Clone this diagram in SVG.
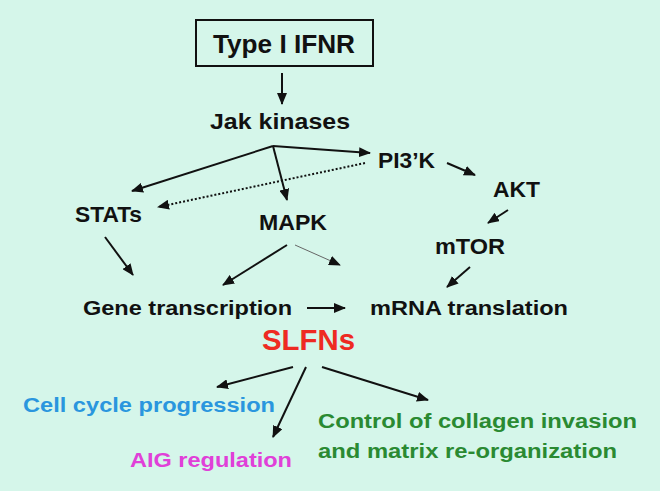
<svg xmlns="http://www.w3.org/2000/svg" width="660" height="491" viewBox="0 0 660 491">
<style>
text{font-family:"Liberation Sans",Arial,sans-serif;font-weight:bold;fill:#111}
.c{stroke:#111;stroke-width:2;fill:none}
</style>
<defs>
<marker id="ah" markerWidth="12" markerHeight="10" refX="11" refY="5" orient="auto" markerUnits="userSpaceOnUse">
<path d="M0,0 L12,5 L0,10 Z" fill="#111"/>
</marker>
<marker id="ahg" markerWidth="12" markerHeight="10" refX="11" refY="5" orient="auto" markerUnits="userSpaceOnUse">
<path d="M0,0 L12,5 L0,10 Z" fill="#111"/>
</marker>
</defs>
<rect width="660" height="491" fill="#d5f6ea"/>
<g id="connectors">
<line class="c" x1="282" y1="73" x2="282" y2="104" marker-end="url(#ah)"/>
<line class="c" x1="273" y1="146" x2="132" y2="191" marker-end="url(#ah)"/>
<line class="c" x1="273" y1="146" x2="287" y2="200" marker-end="url(#ah)"/>
<line class="c" x1="273" y1="146" x2="370" y2="153" marker-end="url(#ah)"/>
<line class="c" x1="365" y1="163" x2="158" y2="207" stroke-dasharray="2,2" stroke-width="1.8" marker-end="url(#ah)"/>
<line class="c" x1="447" y1="163" x2="475" y2="175" marker-end="url(#ah)"/>
<line class="c" x1="508" y1="210" x2="488" y2="223" marker-end="url(#ah)"/>
<line class="c" x1="470" y1="267" x2="447" y2="287" marker-end="url(#ah)"/>
<line class="c" x1="105" y1="237" x2="133" y2="275" marker-end="url(#ah)"/>
<line class="c" x1="287" y1="245" x2="223" y2="285" marker-end="url(#ah)"/>
<line x1="295" y1="245" x2="340" y2="265" stroke="#666" stroke-width="1" marker-end="url(#ahg)"/>
<line class="c" x1="307" y1="308" x2="345" y2="308" marker-end="url(#ah)"/>
<line class="c" x1="293" y1="367" x2="217" y2="387" marker-end="url(#ah)"/>
<line class="c" x1="306" y1="367" x2="273" y2="437" marker-end="url(#ah)"/>
<line class="c" x1="322" y1="367" x2="428" y2="400" marker-end="url(#ah)"/>
</g>
<g id="ifnr">
<rect x="196" y="20" width="177" height="46" fill="none" stroke="#111" stroke-width="2"/>
<text x="213" y="53" font-size="26" textLength="142" lengthAdjust="spacingAndGlyphs">Type I IFNR</text>
</g>
<g id="jak"><text x="210" y="129" font-size="22" textLength="140" lengthAdjust="spacingAndGlyphs">Jak kinases</text></g>
<g id="pi3k"><text x="378" y="168" font-size="22" textLength="57" lengthAdjust="spacingAndGlyphs">PI3’K</text></g>
<g id="akt"><text x="493" y="197" font-size="22" textLength="47" lengthAdjust="spacingAndGlyphs">AKT</text></g>
<g id="stats"><text x="75" y="222" font-size="22" textLength="67" lengthAdjust="spacingAndGlyphs">STATs</text></g>
<g id="mapk"><text x="259" y="230" font-size="22" textLength="68" lengthAdjust="spacingAndGlyphs">MAPK</text></g>
<g id="mtor"><text x="435" y="254" font-size="22" textLength="70" lengthAdjust="spacingAndGlyphs">mTOR</text></g>
<g id="gene"><text x="83" y="315" font-size="20" textLength="209" lengthAdjust="spacingAndGlyphs">Gene transcription</text></g>
<g id="mrna"><text x="370" y="315" font-size="20" textLength="198" lengthAdjust="spacingAndGlyphs">mRNA translation</text></g>
<g id="slfns"><text x="262" y="350" font-size="30" style="fill:#ee2a22" textLength="93" lengthAdjust="spacingAndGlyphs">SLFNs</text></g>
<g id="cellcycle"><text x="23" y="412" font-size="20" style="fill:#2a96de" textLength="252" lengthAdjust="spacingAndGlyphs">Cell cycle progression</text></g>
<g id="aig"><text x="130" y="467" font-size="20" style="fill:#e040d8" textLength="162" lengthAdjust="spacingAndGlyphs">AIG regulation</text></g>
<g id="collagen">
<text x="318" y="428" font-size="20" style="fill:#2a8a32" textLength="319" lengthAdjust="spacingAndGlyphs">Control of collagen invasion</text>
<text x="318" y="458" font-size="20" style="fill:#2a8a32" textLength="299" lengthAdjust="spacingAndGlyphs">and matrix re-organization</text>
</g>
</svg>
